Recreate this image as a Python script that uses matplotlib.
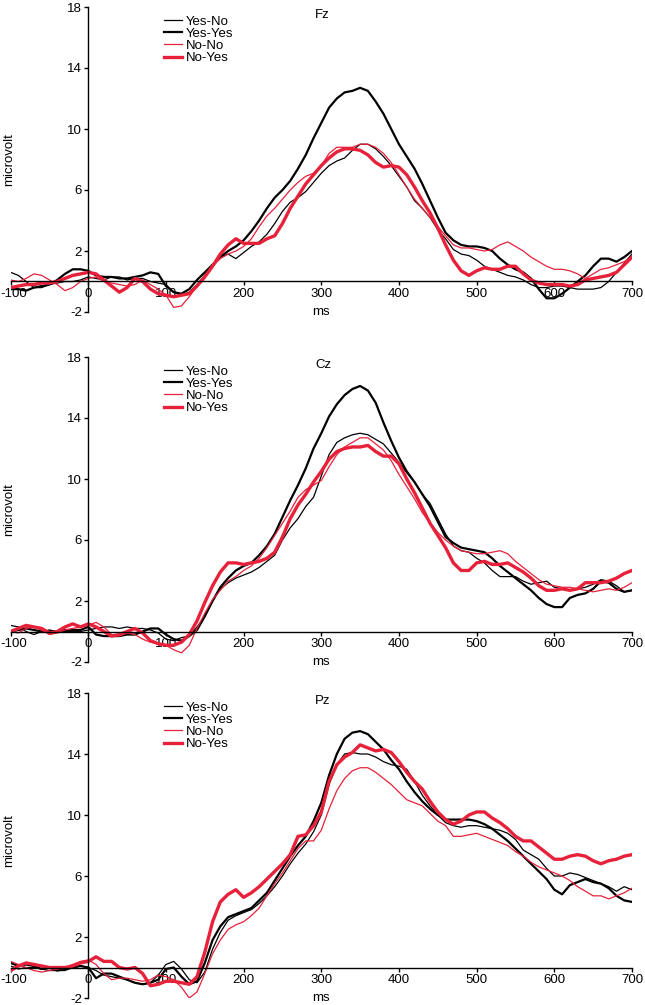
import numpy as np
import matplotlib
matplotlib.use("Agg")
import matplotlib.pyplot as plt
import matplotlib.transforms as mtransforms

plt.rcParams['font.family'] = ['Liberation Sans', 'DejaVu Sans']

# ---------------- data ----------------
time_ms = list(range(-100, 701, 10))
conditions = ["Yes-No", "Yes-Yes", "No-No", "No-Yes"]
electrodes = ["Fz", "Cz", "Pz"]

fz_yes_no = [0.6, 0.4, 0.0, -0.4, -0.4, -0.2, -0.1, 0.0, 0.0, 0.1, 0.3, 0.2, 0.1, 0.3, 0.3, 0.1, 0.2, 0.2, 0.0, -0.1,
             -0.2, -0.7, -0.9, -0.7, -0.2, 0.4, 1.0, 1.6, 1.8, 1.5, 1.9, 2.3, 2.6, 3.1, 3.8, 4.6, 5.2, 5.5, 5.9, 6.5,
             7.1, 7.6, 7.9, 8.1, 8.6, 9.0, 9.0, 8.7, 8.2, 7.6, 6.9, 6.2, 5.3, 4.8, 4.2, 3.4, 2.8, 2.1, 1.8, 1.7,
             1.4, 1.0, 0.8, 0.6, 0.4, 0.3, 0.1, -0.2, -0.4, -0.4, -0.3, -0.3, -0.4, -0.5, -0.5, -0.5, -0.4, 0.0, 0.6, 1.2,
             1.8]
fz_yes_yes = [-0.5, -0.5, -0.6, -0.4, -0.3, -0.2, 0.1, 0.5, 0.8, 0.8, 0.7, 0.4, 0.3, 0.3, 0.2, 0.2, 0.3, 0.4, 0.6, 0.5,
              -0.3, -0.7, -0.8, -0.5, 0.1, 0.6, 1.1, 1.6, 2.0, 2.3, 2.7, 3.3, 4.0, 4.8, 5.5, 6.0, 6.6, 7.4, 8.3, 9.4,
              10.4, 11.4, 12.0, 12.4, 12.5, 12.7, 12.5, 11.8, 11.0, 10.0, 9.0, 8.2, 7.4, 6.4, 5.3, 4.2, 3.2, 2.7, 2.4, 2.3,
              2.3, 2.2, 2.0, 1.5, 1.1, 0.8, 0.6, 0.2, -0.5, -1.1, -1.1, -0.8, -0.4, 0.0, 0.4, 1.0, 1.5, 1.5, 1.3, 1.6,
              2.0]
fz_no_no = [0.1, 0.0, 0.2, 0.5, 0.4, 0.1, -0.2, -0.6, -0.4, 0.0, 0.2, 0.3, 0.0, -0.1, -0.2, -0.3, -0.2, 0.1, -0.2, -0.5,
            -0.9, -1.7, -1.6, -1.0, -0.3, 0.4, 1.0, 1.5, 1.8, 2.0, 2.3, 2.8, 3.6, 4.3, 4.8, 5.4, 6.0, 6.5, 6.9, 7.1,
            7.6, 8.4, 8.8, 8.8, 8.8, 9.0, 9.0, 8.8, 8.4, 7.8, 7.0, 6.2, 5.4, 4.8, 4.2, 3.6, 3.0, 2.4, 2.2, 2.2,
            2.1, 2.0, 2.1, 2.4, 2.6, 2.3, 2.0, 1.6, 1.3, 1.0, 0.8, 0.8, 0.7, 0.5, 0.2, 0.5, 0.8, 0.9, 1.1, 1.3,
            1.6]
fz_no_yes = [-0.4, -0.3, -0.2, -0.2, -0.1, -0.1, 0.0, 0.2, 0.4, 0.5, 0.6, 0.5, 0.1, -0.3, -0.7, -0.4, 0.2, 0.0, -0.5, -0.8,
             -0.9, -1.0, -0.9, -0.8, -0.3, 0.3, 1.0, 1.8, 2.4, 2.8, 2.5, 2.5, 2.5, 2.8, 3.0, 3.8, 4.8, 5.6, 6.4, 7.0,
             7.6, 8.1, 8.5, 8.7, 8.7, 8.6, 8.3, 7.8, 7.5, 7.6, 7.5, 7.0, 6.2, 5.3, 4.5, 3.5, 2.4, 1.4, 0.7, 0.4,
             0.7, 0.9, 0.8, 0.8, 1.0, 1.0, 0.5, 0.1, -0.1, -0.2, -0.2, -0.2, -0.3, -0.2, 0.1, 0.2, 0.3, 0.4, 0.6, 1.1,
             1.6]

cz_yes_no = [0.4, 0.3, 0.0, -0.2, 0.0, 0.1, 0.0, 0.0, 0.0, 0.0, 0.1, 0.2, 0.3, 0.3, 0.2, 0.3, 0.2, 0.2, 0.1, -0.1,
             -0.5, -0.6, -0.4, -0.3, 0.3, 1.0, 2.0, 2.8, 3.2, 3.5, 3.7, 3.9, 4.2, 4.6, 5.0, 6.0, 6.8, 7.4, 8.2, 8.8,
             10.2, 11.6, 12.4, 12.7, 12.9, 13.0, 12.9, 12.6, 12.3, 11.7, 11.1, 10.4, 9.8, 9.0, 8.4, 7.4, 6.4, 5.6, 5.3, 5.2,
             4.8, 4.5, 4.0, 3.6, 3.6, 3.6, 3.3, 3.1, 3.2, 3.3, 2.9, 2.8, 2.7, 2.8, 2.9, 3.1, 3.4, 3.3, 3.0, 2.6,
             2.7]
cz_yes_yes = [0.0, 0.1, 0.2, 0.1, 0.0, 0.0, 0.0, 0.1, 0.1, 0.1, 0.3, -0.2, -0.3, -0.3, -0.3, -0.2, -0.2, 0.0, 0.2, 0.2,
              -0.2, -0.5, -0.6, -0.3, 0.1, 1.0, 2.0, 2.9, 3.5, 4.0, 4.3, 4.5, 5.0, 5.6, 6.4, 7.5, 8.6, 9.6, 10.7, 12.0,
              13.0, 14.1, 14.9, 15.5, 15.9, 16.1, 15.8, 15.0, 13.7, 12.5, 11.4, 10.5, 9.8, 9.0, 8.2, 7.2, 6.2, 5.8, 5.5, 5.4,
              5.3, 5.2, 4.8, 4.3, 3.9, 3.5, 3.1, 2.7, 2.2, 1.8, 1.6, 1.6, 2.2, 2.4, 2.5, 2.8, 3.3, 3.2, 2.8, 2.6,
              2.7]
cz_no_no = [0.0, -0.1, 0.2, 0.3, 0.1, -0.2, -0.1, 0.1, 0.2, 0.3, 0.4, 0.6, 0.3, -0.2, -0.3, -0.1, -0.2, -0.5, -0.7, -0.8,
            -0.9, -1.2, -1.4, -0.9, 0.2, 1.2, 2.1, 2.7, 3.3, 3.6, 4.0, 4.3, 4.8, 5.5, 6.3, 7.1, 7.9, 8.8, 9.3, 9.6,
            9.9, 10.8, 11.6, 12.1, 12.4, 12.7, 12.7, 12.3, 11.9, 11.2, 10.3, 9.5, 8.7, 7.8, 7.1, 6.5, 6.0, 5.6, 5.3, 5.2,
            5.1, 5.1, 5.2, 5.3, 5.1, 4.6, 4.2, 3.8, 3.4, 3.1, 3.0, 2.9, 2.9, 2.8, 2.7, 2.6, 2.7, 2.8, 2.7, 2.9,
            3.2]
cz_no_yes = [0.0, 0.2, 0.4, 0.3, 0.2, -0.1, 0.0, 0.3, 0.5, 0.3, 0.5, 0.3, 0.0, -0.3, -0.2, 0.0, 0.2, -0.1, -0.6, -0.8,
             -0.9, -0.9, -0.7, -0.2, 0.7, 1.9, 3.0, 3.9, 4.5, 4.5, 4.4, 4.5, 4.6, 4.8, 5.2, 6.2, 7.4, 8.3, 9.0, 9.8,
             10.5, 11.3, 11.8, 12.0, 12.1, 12.1, 12.2, 11.8, 11.5, 11.5, 11.0, 10.0, 9.1, 8.1, 7.1, 6.3, 5.5, 4.5, 4.0, 4.0,
             4.5, 4.6, 4.4, 4.4, 4.5, 4.2, 3.9, 3.5, 3.0, 2.7, 2.7, 2.8, 2.7, 2.8, 3.2, 3.2, 3.2, 3.3, 3.5, 3.8,
             4.0]

pz_yes_no = [0.1, -0.1, 0.0, 0.0, -0.1, -0.2, -0.2, -0.2, 0.0, 0.1, 0.0, -0.2, -0.5, -0.6, -0.7, -0.8, -1.0, -1.1, -1.0, -0.5,
             0.2, 0.4, -0.1, -0.8, -1.0, -0.3, 1.2, 2.3, 3.1, 3.4, 3.6, 3.8, 4.2, 4.7, 5.3, 6.0, 6.8, 7.5, 8.1, 8.9,
             10.0, 12.0, 13.3, 14.0, 14.1, 14.0, 14.0, 13.8, 13.5, 13.3, 13.2, 13.0, 12.2, 11.3, 10.6, 10.0, 9.5, 9.3, 9.2, 9.3,
             9.3, 9.2, 9.1, 9.0, 8.8, 8.4, 7.7, 7.4, 7.1, 6.5, 6.0, 6.0, 6.2, 6.1, 5.9, 5.7, 5.5, 5.3, 5.0, 5.3,
             5.1]
pz_yes_yes = [0.3, 0.1, 0.2, 0.1, -0.1, 0.0, -0.2, -0.1, 0.0, 0.1, 0.0, -0.7, -0.4, -0.4, -0.6, -0.8, -1.0, -1.1, -1.0, -0.8,
              -0.1, 0.0, -0.6, -1.1, -0.9, 0.3, 1.8, 2.7, 3.3, 3.5, 3.7, 3.9, 4.4, 4.9, 5.7, 6.5, 7.3, 8.0, 8.6, 9.6,
              10.8, 12.6, 14.0, 15.0, 15.4, 15.5, 15.3, 14.8, 14.3, 13.6, 13.0, 12.2, 11.5, 10.9, 10.4, 10.0, 9.7, 9.7, 9.7, 9.7,
              9.6, 9.4, 9.1, 8.7, 8.3, 7.8, 7.3, 6.8, 6.3, 5.8, 5.1, 4.8, 5.4, 5.6, 5.8, 5.6, 5.5, 5.2, 4.7, 4.4,
              4.3]
pz_no_no = [0.4, 0.2, 0.0, -0.2, -0.3, -0.2, -0.1, 0.0, 0.2, 0.4, 0.5, 0.2, -0.4, -0.8, -0.7, -0.7, -0.8, -0.9, -0.8, -0.5,
            -0.6, -0.8, -1.3, -2.0, -1.6, -0.4, 0.9, 1.8, 2.5, 2.8, 3.0, 3.4, 3.9, 4.7, 5.5, 6.2, 7.0, 7.8, 8.3, 8.3,
            9.0, 10.4, 11.6, 12.4, 12.9, 13.1, 13.1, 12.8, 12.4, 12.0, 11.5, 11.0, 10.8, 10.6, 10.1, 9.6, 9.3, 8.6, 8.6, 8.7,
            8.8, 8.6, 8.4, 8.2, 8.0, 7.6, 7.3, 6.9, 6.6, 6.4, 6.2, 6.0, 5.7, 5.3, 5.0, 4.7, 4.7, 4.5, 4.7, 4.9,
            5.2]
pz_no_yes = [-0.2, 0.1, 0.3, 0.2, 0.1, 0.0, 0.0, 0.0, 0.1, 0.3, 0.4, 0.7, 0.4, 0.4, 0.0, -0.1, 0.0, -0.4, -1.2, -1.1,
             -0.9, -0.9, -1.0, -1.1, -0.6, 1.0, 3.0, 4.3, 4.8, 5.1, 4.6, 4.9, 5.3, 5.8, 6.3, 6.8, 7.4, 8.6, 8.7, 9.3,
             10.2, 12.2, 13.3, 13.8, 14.1, 14.6, 14.4, 14.2, 14.3, 14.1, 13.5, 12.8, 12.2, 11.7, 10.9, 10.2, 9.7, 9.4, 9.6, 10.0,
             10.2, 10.2, 9.8, 9.5, 9.1, 8.6, 8.3, 8.3, 7.9, 7.5, 7.1, 7.1, 7.3, 7.4, 7.3, 7.0, 6.8, 7.0, 7.1, 7.3,
             7.4]

panel_series = {
    "Fz": [fz_yes_no, fz_yes_yes, fz_no_no, fz_no_yes],
    "Cz": [cz_yes_no, cz_yes_yes, cz_no_no, cz_no_yes],
    "Pz": [pz_yes_no, pz_yes_yes, pz_no_no, pz_no_yes],
}
x_ticks = [-100, 0, 100, 200, 300, 400, 500, 600, 700]
y_ticks = [-2, 2, 6, 10, 14, 18]

# ---------------- styles ----------------
RED = "#e8213a"
colors = ["black", "black", RED, RED]
widths = [0.9, 1.6, 0.9, 2.4]

W, H = 645, 1005
fig = plt.figure(figsize=(W / 100, H / 100), dpi=100)
left = 10.6 / W
width = (632 - 10.6) / W
panel_px = [(7, 312), (357, 662), (693, 998)]   # top, bottom in pixels
ylabel_y = [8.0, 8.0, 8.3]

for k, name in enumerate(electrodes):
    top, bottom = panel_px[k]
    ax = fig.add_axes([left, 1 - bottom / H, width, (bottom - top) / H])
    for series, lab, c, lw in zip(panel_series[name], conditions, colors, widths):
        ax.plot(time_ms, series, color=c, lw=lw, label=lab, solid_joinstyle="round")
    ax.set_xlim(-100, 700)
    ax.set_ylim(-2, 18)
    for s in ("top", "right"):
        ax.spines[s].set_visible(False)
    ax.spines["left"].set_position(("data", 0))
    ax.spines["bottom"].set_position(("data", 0))
    ax.spines["left"].set_linewidth(1.0)
    ax.spines["bottom"].set_linewidth(1.0)
    ax.set_xticks(x_ticks)
    ax.set_yticks(y_ticks)
    ax.set_xticklabels([str(v) for v in x_ticks])
    ax.set_yticklabels([str(v) for v in y_ticks])
    ax.tick_params(axis="both", direction="out", length=3, width=1.0, labelsize=9.5, pad=1.5)
    # nudge the leftmost x tick label so it stays inside the figure
    first = ax.get_xticklabels()[0]
    first.set_transform(first.get_transform() +
                        mtransforms.ScaledTranslation(3 / 100, 0, fig.dpi_scale_trans))
    ax.patch.set_visible(False)
    ax.text(300, -2.0, "ms", ha="center", va="center", fontsize=9.5)
    ax.text(-102, ylabel_y[k], "microvolt", rotation=90, ha="center", va="center", fontsize=9.5, clip_on=False)
    ax.text(292, 17.45, name, ha="left", va="center", fontsize=9.5)
    ax.legend(loc="upper left", bbox_to_anchor=(98, 17.45), bbox_transform=ax.transData,
              frameon=False, fontsize=9.5, handlelength=1.35, handletextpad=0.3,
              labelspacing=0.0, borderpad=0, borderaxespad=0)

fig.savefig("out.png", dpi=100)
